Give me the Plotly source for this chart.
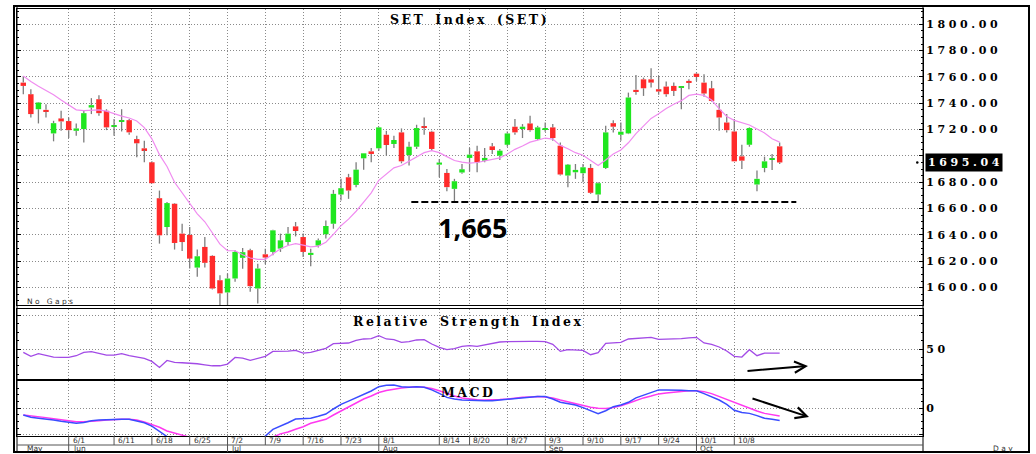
import plotly.graph_objects as go

# ---------------- data ----------------
opens = [1755.7,1746.9,1735.5,1735.0,1717.1,1728.5,1726.5,1719.1,1720.4,1736.8,
         1743.1,1734.3,1722.2,1726.0,1727.2,1712.8,1705.8,1695.2,1667.9,1646.0,
         1663.7,1641.0,1640.0,1615.2,1630.9,1624.1,1605.6,1596.3,1606.9,1622.6,
         1628.4,1599.3,1625.3,1627.1,1629.6,1634.6,1646.5,1638.4,1624.8,1631.9,
         1640.5,1648.5,1670.7,1683.8,1678.0,1698.2,1703.5,1705.8,1716.1,1709.1,
         1717.9,1700.7,1707.0,1722.2,1718.4,1693.4,1687.1,1675.0,1687.4,1698.5,
         1703.5,1696.4,1707.3,1700.2,1708.5,1722.2,1720.7,1724.7,1712.8,1719.9,
         1721.7,1707.8,1685.1,1687.6,1686.9,1690.9,1670.7,1690.9,1724.9,1716.1,
         1717.1,1750.2,1758.2,1758.2,1750.7,1752.7,1753.2,1752.2,1757.0,1762.5,
         1755.7,1751.4,1735.0,1725.4,1718.6,1699.7,1708.5,1678.3,1690.9,1697.0,
         1707.3]
highs = [1760.8,1750.7,1741.0,1739.3,1726.7,1734.3,1729.2,1724.7,1734.3,1743.9,
         1746.1,1735.5,1728.0,1735.5,1728.0,1715.4,1711.6,1696.0,1673.7,1665.0,
         1664.2,1648.5,1646.0,1628.9,1638.4,1624.6,1609.4,1610.7,1628.4,1630.1,
         1629.6,1618.2,1629.6,1644.0,1641.0,1646.0,1649.8,1641.0,1629.6,1637.2,
         1651.0,1674.2,1682.6,1686.4,1695.2,1702.0,1706.0,1722.2,1719.1,1715.4,
         1720.9,1710.8,1723.7,1729.2,1719.1,1697.7,1690.1,1682.6,1693.9,1706.0,
         1707.8,1706.0,1709.8,1705.3,1718.6,1728.0,1724.2,1730.5,1722.9,1725.4,
         1724.2,1710.3,1693.9,1693.9,1693.9,1693.9,1680.1,1722.9,1727.2,1725.4,
         1748.1,1761.5,1759.5,1766.6,1760.8,1756.5,1755.7,1753.2,1758.2,1763.3,
         1762.0,1757.0,1739.8,1731.8,1728.0,1708.5,1721.7,1688.9,1699.5,1701.5,
         1710.3]
lows = [1746.9,1729.2,1724.7,1729.2,1711.1,1719.1,1713.6,1715.4,1710.3,1731.8,
        1730.5,1719.6,1715.4,1718.6,1716.1,1699.0,1695.2,1679.0,1633.4,1639.7,
        1628.9,1627.8,1614.5,1608.2,1615.2,1598.6,1585.0,1585.0,1604.4,1614.3,
        1596.8,1588.0,1617.8,1624.6,1627.1,1632.1,1638.9,1623.3,1616.2,1630.4,
        1637.2,1644.7,1666.2,1667.4,1676.3,1689.6,1695.2,1704.0,1700.2,1706.0,
        1694.4,1692.7,1705.3,1716.1,1704.0,1683.8,1673.2,1664.9,1686.4,1688.1,
        1687.6,1695.2,1701.5,1697.0,1707.0,1716.1,1713.6,1718.4,1712.1,1718.4,
        1711.6,1685.1,1676.3,1682.6,1680.1,1671.2,1664.9,1690.1,1717.9,1711.6,
        1716.6,1746.4,1745.6,1751.9,1746.4,1744.9,1745.6,1735.5,1750.7,1757.0,
        1744.9,1741.3,1719.1,1717.9,1695.9,1690.1,1707.0,1673.2,1687.6,1689.4,
        1693.9]
closes = [1753.2,1731.8,1740.6,1733.8,1724.9,1726.2,1719.6,1720.9,1732.5,1738.6,
          1732.5,1721.7,1723.0,1726.7,1717.9,1709.6,1704.5,1679.3,1639.7,1664.2,
          1633.9,1634.6,1622.0,1623.8,1618.8,1599.3,1595.6,1606.9,1627.1,1626.9,
          1601.1,1614.5,1622.8,1643.5,1635.9,1641.0,1643.0,1627.1,1626.4,1635.9,
          1646.8,1671.2,1675.5,1673.7,1689.6,1702.0,1701.5,1721.7,1708.3,1712.1,
          1695.9,1707.0,1721.2,1721.4,1705.3,1695.0,1676.3,1680.8,1689.9,1701.0,
          1695.2,1698.5,1704.5,1704.0,1717.1,1717.9,1722.2,1719.6,1721.7,1721.2,
          1713.6,1685.9,1693.4,1689.4,1691.4,1672.0,1679.3,1717.9,1722.2,1718.4,
          1744.4,1748.7,1751.4,1755.7,1748.9,1746.9,1749.4,1752.9,1755.7,1760.0,
          1747.4,1741.8,1729.2,1719.6,1695.9,1696.4,1721.2,1682.6,1695.9,1697.7,
          1695.04]
ma_line = [1760.7,1756.5,1753,1750,1746.5,1742.5,1738.5,1735,1734.5,1735,
           1735,1734,1731.8,1730.2,1728.8,1726.5,1721.5,1713,1701,1692,
           1680,1672,1664,1656,1650,1641,1633,1628,1628,1625,
           1622.5,1621.5,1621.5,1625.5,1629.5,1632,1633.4,1632.2,1631,1631.5,
           1634.5,1640.5,1647,1652,1658,1665,1672,1681.5,1686,1691,
           1692.7,1696,1699.5,1702.5,1704,1702.5,1699.5,1696.5,1695.3,1694.5,
           1695,1696.2,1697.5,1698.5,1701.5,1705,1707.5,1710.5,1712,1713.6,
           1712.8,1708,1705.5,1702.5,1700.5,1696.5,1692.7,1697,1701.5,1704.5,
           1710,1717,1723,1728.5,1732,1736,1739.3,1742,1746,1747,
           1746,1742.5,1736,1730,1727,1725,1723.5,1720.5,1717.5,1713,
           1710.5]
rsi = [48.0,45.6,47.2,46.2,45.2,45.0,45.0,46.0,48.0,48.4,
       47.2,46.4,46.4,47.2,46.0,45.0,44.4,42.6,39.0,43.2,
       42.0,41.8,41.6,41.2,40.6,40.0,40.0,41.0,45.0,44.6,
       43.2,44.4,45.6,48.6,48.6,48.8,49.2,47.6,48.0,49.2,
       50.4,53.2,53.6,53.6,55.2,56.0,56.2,58.0,56.0,55.6,
       54.0,54.4,55.4,55.6,53.0,51.0,49.6,50.2,51.6,52.0,
       51.6,52.6,53.2,54.2,54.4,54.6,54.6,54.6,54.6,54.4,
       52.8,48.6,49.6,49.4,49.2,46.6,47.8,53.4,53.6,54.0,
       56.0,56.4,56.8,57.0,55.8,55.8,56.0,56.2,56.6,57.0,
       53.6,52.8,51.2,48.8,45.6,45.2,49.6,46.0,47.6,47.6,
       47.6]
macd = [-2.51,-3.39,-3.70,-4.0,-4.4,-4.9,-5.4,-5.64,-5.3,-4.7,
        -4.39,-4.25,-4.14,-4.14,-4.14,-4.64,-5.4,-6.7,-8.8,-10.6,
        -12.0,-13.2,-14.5,-15.5,-16.5,-17.5,-18.0,-17.5,-16.0,-15.0,
        -14.5,-12.5,-10.4,-7.9,-6.8,-5.4,-4.0,-3.76,-3.76,-3.0,
        -2.14,-0.26,1.5,2.7,4.0,5.1,6.5,8.1,8.6,8.74,
        8.1,7.86,8.1,7.86,6.9,5.6,4.1,3.5,3.1,3.0,
        2.86,2.86,2.86,3.1,3.4,3.7,4.0,4.25,4.4,4.4,
        3.5,2.25,1.75,1.25,0.25,-0.9,-2.0,-0.9,0.6,1.25,
        2.25,3.9,5.0,6.0,6.9,6.9,6.9,6.75,6.6,6.6,
        5.5,4.4,3.1,1.5,-0.75,-1.6,-1.9,-2.75,-3.75,-4.1,
        -4.6]
signal = [-2.51,-2.76,-3.0,-3.5,-3.9,-4.3,-4.64,-5.0,-5.0,-4.9,
          -4.64,-4.39,-4.14,-4.14,-4.14,-4.39,-5.1,-6.0,-7.1,-8.5,
          -9.4,-10.1,-10.9,-11.7,-12.5,-13.5,-14.5,-15.3,-15.6,-15.5,
          -15.0,-14.0,-12.5,-10.8,-9.6,-8.9,-7.89,-6.9,-5.6,-5.0,
          -4.14,-2.51,-1.0,0.6,2.2,3.5,4.6,5.9,6.7,7.2,
          7.6,7.86,8.1,7.86,7.4,6.6,5.5,4.6,3.9,3.5,
          3.2,3.1,3.1,3.3,3.5,3.9,4.1,4.25,4.4,4.25,
          3.9,3.1,2.4,1.6,1.0,0.4,0.0,-0.1,0.25,0.9,
          1.9,2.9,3.9,4.6,5.4,5.75,6.1,6.4,6.6,6.6,
          6.25,5.5,4.4,3.25,2.1,1.0,0.0,-1.0,-1.9,-2.5,
          -2.9]

date_labels = ["6/1", "6/11", "6/18", "6/25", "7/2", "7/9", "7/16", "7/23", "8/1",
               "8/14", "8/20", "8/27", "9/3", "9/10", "9/17", "9/24", "10/1", "10/8"]
date_index = [6, 12, 17, 22, 27, 32, 37, 42, 47, 55, 59, 64, 69, 74, 79, 84, 89, 94]
month_labels = ["May", "Jun", "Jul", "Aug", "Sep", "Oct"]
month_index = [0, 6, 27, 47, 69, 89]
price_ticks = [1600, 1620, 1640, 1660, 1680, 1700, 1720, 1740, 1760, 1780, 1800]
support_level = 1665
support_label = "1,665"
support_from, support_to = 51.3, 102.2
last_close_label = "1695.04"

# ---------------- geometry helpers ----------------
W, H = 1036, 454
def px(x): return x / W
def py(y): return 1 - y / H

X_RANGE = [-0.833, 118.95]
GRID = dict(showgrid=True, gridcolor="#8a8a8a", gridwidth=1, griddash="1px,2px")
SERIF = "DejaVu Serif"

def spaced(s, gap="\u2004"):
    return gap.join(s)

def spaced_title(s):
    return "\u2002\u2002".join("\u2009".join(w) for w in s.split(" "))

n = len(closes)
idx = list(range(n))

fig = go.Figure()

# wicks (split so they do not cross the bodies)
wx, wy = [], []
for i, (o, h, l, c) in enumerate(zip(opens, highs, lows, closes)):
    top, bot = max(o, c), min(o, c)
    if h > top:
        wx += [i, i, None]; wy += [top, h, None]
    if l < bot:
        wx += [i, i, None]; wy += [l, bot, None]
fig.add_trace(go.Scatter(x=wx, y=wy, mode="lines", line=dict(color="#7d7d7d", width=1.3),
                         hoverinfo="skip", xaxis="x", yaxis="y"))

colors = ["#1fe61f" if c >= o else "#ff2b2b" for o, c in zip(opens, closes)]
fig.add_trace(go.Bar(x=idx, y=[max(abs(c - o), 0.9) for o, c in zip(opens, closes)],
                     base=[min(o, c) for o, c in zip(opens, closes)],
                     width=0.72, marker=dict(color=colors, line=dict(width=0)),
                     xaxis="x", yaxis="y"))
fig.add_trace(go.Scatter(x=idx, y=ma_line, mode="lines",
                         line=dict(color="#f08cf0", width=1.2), xaxis="x", yaxis="y"))
fig.add_trace(go.Scatter(x=idx, y=rsi, mode="lines",
                         line=dict(color="#a24ae6", width=1.3), xaxis="x2", yaxis="y2"))
fig.add_trace(go.Scatter(x=idx, y=signal, mode="lines",
                         line=dict(color="#ff38f0", width=1.5), xaxis="x3", yaxis="y3"))
fig.add_trace(go.Scatter(x=idx, y=macd, mode="lines",
                         line=dict(color="#3a4cff", width=1.5), xaxis="x3", yaxis="y3"))

xcommon = dict(range=X_RANGE, domain=[px(17), px(923)], tickvals=date_index,
               showticklabels=False, ticks="", zeroline=False,
               showline=True, linecolor="black", linewidth=1, mirror=True, **GRID)
tickfont = dict(family=SERIF, size=11, color="black", weight="bold")
ycommon = dict(side="right", ticks="inside", ticklen=4, tickcolor="black",
               showline=True, linecolor="black", linewidth=1, mirror="ticks",
               zeroline=False, tickfont=tickfont, **GRID)

fig.update_layout(
    width=W, height=H, margin=dict(l=0, r=0, t=0, b=0), autosize=False,
    paper_bgcolor="white", plot_bgcolor="white", showlegend=False,
    xaxis=dict(anchor="y", **xcommon),
    xaxis2=dict(anchor="y2", matches="x", **xcommon),
    xaxis3=dict(anchor="y3", matches="x", **xcommon),
    yaxis=dict(anchor="x", domain=[py(305), py(9)], range=[1586.78, 1811.62],
               tickvals=price_ticks,
               ticktext=["" if v == 1700 else spaced(f"{v:.2f}") for v in price_ticks],
               minor=dict(ticks="inside", ticklen=2, tick0=1600, dtick=5, tickcolor="black",
                          showgrid=False),
               **ycommon),
    yaxis2=dict(anchor="x2", domain=[py(379), py(309)], range=[32.1, 73.9],
                tickvals=[50, 70], ticktext=[spaced("50"), ""],
                minor=dict(ticks="inside", ticklen=2, tick0=30, dtick=5, tickcolor="black",
                           showgrid=False),
                **ycommon),
    yaxis3=dict(anchor="x3", domain=[py(436), py(381)], range=[-10.39, 10.24],
                tickvals=[-10, 0, 10], ticktext=["", "0", ""],
                minor=dict(ticks="inside", ticklen=2, tick0=0, dtick=2.5, tickcolor="black",
                           showgrid=False),
                **ycommon),
)

ann = []
def text(x, y, s, size, family="DejaVu Sans", color="black", bold=False, anchor="left", **kw):
    d = dict(x=x, y=y, xref=kw.pop("xref", "paper"), yref=kw.pop("yref", "paper"),
             text=s, showarrow=False, xanchor=anchor, yanchor="middle",
             font=dict(family=family, size=size, color=color,
                       weight="bold" if bold else "normal"))
    d.update(kw)
    ann.append(d)

text(px(468.5), py(19.5), spaced_title("SET Index (SET)"), 12.5, SERIF, bold=True, anchor="center")
text(px(467.5), py(321), spaced_title("Relative Strength Index"), 12.5, SERIF, bold=True, anchor="center")
text(px(467), py(392.5), spaced_title("MACD"), 12.5, SERIF, bold=True, anchor="center")
text(px(436), py(227), support_label, 27, "Open Sans", bold=True)
text(px(25), py(301.5), "N o   G a p s", 7.5, color="#333")
text(px(991), py(448.5), "D a y", 7.5, color="#333")
for lab, i in zip(date_labels, date_index):
    text(i + 0.25, py(440.5), lab, 7.5, color="#333", xref="x3")
for lab, i in zip(month_labels, month_index):
    text(i + 0.25, py(448.8), lab, 7.5, color="#333", xref="x3")
# last value box
ann.append(dict(x=px(925), y=closes[-1], xref="paper", yref="y", xanchor="left", yanchor="middle",
                text=spaced(last_close_label), showarrow=False, bgcolor="black", borderpad=2,
                font=dict(family=SERIF, size=11, color="white", weight="bold")))
# trend arrows
ann.append(dict(x=px(808), y=py(366), xref="paper", yref="paper", ax=-62, ay=5,
                showarrow=True, arrowhead=5, arrowsize=1.1, arrowwidth=2, arrowcolor="black", text=""))
ann.append(dict(x=px(809), y=py(417), xref="paper", yref="paper", ax=-58, ay=-19,
                showarrow=True, arrowhead=5, arrowsize=1.1, arrowwidth=2, arrowcolor="black", text=""))
fig.update_layout(annotations=ann)

shapes = []
# outer frame & separators
shapes.append(dict(type="rect", xref="paper", yref="paper", x0=px(14), x1=px(1029), y0=py(452), y1=py(6),
                   line=dict(color="black", width=2)))
shapes.append(dict(type="line", xref="paper", yref="paper", x0=px(923), x1=px(923), y0=py(452), y1=py(6),
                   line=dict(color="black", width=1)))
shapes.append(dict(type="line", xref="paper", yref="paper", x0=px(17), x1=px(17), y0=py(452), y1=py(6),
                   line=dict(color="black", width=1)))
shapes.append(dict(type="line", xref="paper", yref="paper", x0=px(17), x1=px(923), y0=py(445), y1=py(445),
                   line=dict(color="#555", width=1)))
for i in date_index:
    shapes.append(dict(type="line", xref="x3", yref="paper", x0=i, x1=i, y0=py(445), y1=py(436),
                       line=dict(color="#555", width=1)))
for i in month_index[1:]:
    shapes.append(dict(type="line", xref="x3", yref="paper", x0=i, x1=i, y0=py(452), y1=py(445),
                       line=dict(color="#555", width=1)))
# support line
shapes.append(dict(type="line", xref="x", yref="y", x0=support_from, x1=support_to,
                   y0=support_level, y1=support_level, line=dict(color="black", width=2, dash="7px,3px")))
# current value marker on axis
shapes.append(dict(type="circle", xref="paper", yref="y", x0=px(916), x1=px(918.5),
                   y0=closes[-1] - 0.9, y1=closes[-1] + 0.9, fillcolor="black", line=dict(width=0)))
fig.update_layout(shapes=shapes)

fig.write_html("out.html", config={"displayModeBar": False})
